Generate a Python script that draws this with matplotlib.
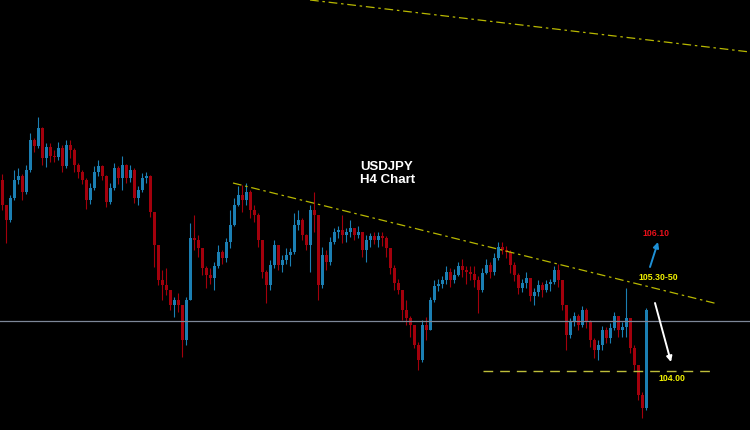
import numpy as np
import matplotlib
matplotlib.use('Agg')
import matplotlib.pyplot as plt

plt.rcParams['font.family'] = ['Liberation Sans', 'DejaVu Sans']

# USDJPY H4 candles
first_open = 107.82
closes = [107.32, 107.02, 107.46, 107.82, 107.90, 107.58, 108.02, 108.62, 108.50, 108.86,
          108.26, 108.48, 108.30, 108.28, 108.46, 108.10, 108.52, 108.42, 108.12, 107.98,
          107.82, 107.42, 107.66, 107.98, 108.10, 107.90, 107.38, 107.66, 108.06, 107.86,
          108.12, 107.86, 108.02, 107.46, 107.62, 107.86, 107.90, 107.18, 106.52, 105.82,
          105.72, 105.62, 105.32, 105.42, 105.32, 104.62, 105.42, 106.66, 106.62, 106.46,
          106.06, 105.92, 105.86, 106.10, 106.38, 106.26, 106.58, 106.92, 107.32, 107.52,
          107.42, 107.58, 107.22, 107.12, 106.62, 105.98, 105.72, 106.12, 106.52, 106.12,
          106.22, 106.32, 106.38, 106.92, 107.02, 106.72, 106.52, 107.22, 107.12, 105.72,
          106.32, 106.18, 106.58, 106.78, 106.82, 106.72, 106.78, 106.86, 106.72, 106.78,
          106.42, 106.62, 106.70, 106.62, 106.70, 106.66, 106.46, 106.06, 105.76, 105.62,
          105.22, 105.06, 104.92, 104.52, 104.22, 104.92, 104.82, 105.42, 105.70, 105.74,
          105.82, 105.98, 105.82, 105.92, 106.10, 106.02, 105.98, 105.94, 105.82, 105.62,
          105.96, 106.12, 105.98, 106.26, 106.48, 106.42, 106.38, 106.12, 105.92, 105.66,
          105.76, 105.86, 105.50, 105.58, 105.72, 105.62, 105.74, 105.78, 106.02, 105.82,
          105.32, 104.72, 104.98, 105.10, 104.92, 105.22, 104.98, 104.62, 104.42, 104.52,
          104.82, 104.66, 104.86, 105.10, 104.82, 104.88, 105.06, 104.46, 104.12, 103.52,
          103.26, 105.22]
highs = [107.94, 107.32, 107.52, 108.02, 108.06, 107.94, 108.12, 108.76, 108.66, 109.08,
         108.88, 108.56, 108.56, 108.42, 108.58, 108.52, 108.62, 108.62, 108.46, 108.16,
         108.02, 107.86, 107.76, 108.10, 108.22, 108.12, 107.92, 107.76, 108.16, 108.10,
         108.30, 108.14, 108.12, 108.06, 107.70, 107.96, 107.98, 107.92, 107.18, 106.42,
         106.02, 106.06, 105.62, 105.48, 105.56, 105.32, 105.48, 106.96, 107.12, 106.72,
         106.46, 106.10, 106.06, 106.18, 106.52, 106.42, 106.66, 107.22, 107.46, 107.70,
         107.72, 107.76, 107.62, 107.32, 107.16, 106.62, 106.02, 106.22, 106.62, 106.52,
         106.32, 106.46, 106.46, 107.16, 107.22, 107.06, 106.74, 107.32, 107.58, 107.12,
         106.48, 106.42, 106.68, 106.86, 106.90, 107.12, 106.86, 107.02, 106.86, 106.90,
         106.78, 106.72, 106.76, 106.78, 106.78, 106.78, 106.70, 106.42, 106.12, 105.84,
         105.58, 105.42, 105.10, 104.92, 104.58, 105.02, 105.08, 105.48, 105.82, 105.84,
         105.90, 106.10, 106.06, 106.04, 106.18, 106.24, 106.10, 106.10, 106.10, 105.90,
         106.06, 106.24, 106.18, 106.36, 106.58, 106.58, 106.50, 106.42, 106.18, 105.96,
         105.84, 105.98, 105.86, 105.66, 105.82, 105.78, 105.82, 105.84, 106.10, 106.14,
         105.82, 105.32, 105.06, 105.18, 105.14, 105.30, 105.26, 105.02, 104.66, 104.62,
         104.90, 104.88, 104.96, 105.18, 105.10, 104.98, 105.66, 105.06, 104.52, 104.12,
         103.58, 105.26]
lows = [107.22, 106.56, 106.98, 107.42, 107.74, 107.42, 107.54, 107.98, 108.38, 108.46,
        108.12, 108.08, 108.18, 108.18, 108.22, 107.98, 108.06, 108.26, 107.98, 107.86,
        107.74, 107.24, 107.34, 107.62, 107.90, 107.82, 107.28, 107.34, 107.62, 107.74,
        107.62, 107.76, 107.78, 107.36, 107.32, 107.58, 107.76, 107.08, 106.08, 105.72,
        105.42, 105.52, 105.22, 105.08, 105.18, 104.28, 104.52, 105.42, 106.42, 106.28,
        105.92, 105.66, 105.74, 105.62, 106.06, 106.14, 106.18, 106.46, 106.90, 107.30,
        107.18, 107.32, 107.06, 106.98, 106.48, 105.86, 105.36, 105.62, 106.06, 106.02,
        105.98, 106.14, 106.10, 106.34, 106.82, 106.62, 106.42, 105.98, 106.78, 105.42,
        105.66, 106.02, 106.12, 106.54, 106.66, 106.56, 106.58, 106.68, 106.62, 106.66,
        106.28, 106.18, 106.48, 106.54, 106.48, 106.50, 106.28, 105.94, 105.62, 105.54,
        105.02, 104.92, 104.68, 104.46, 104.02, 104.18, 104.62, 104.82, 105.38, 105.60,
        105.66, 105.74, 105.68, 105.76, 105.90, 105.88, 105.74, 105.82, 105.68, 105.16,
        105.58, 105.94, 105.86, 105.92, 106.22, 106.34, 106.26, 105.96, 105.80, 105.54,
        105.58, 105.66, 105.40, 105.32, 105.50, 105.48, 105.58, 105.60, 105.74, 105.68,
        105.22, 104.42, 104.66, 104.90, 104.82, 104.88, 104.86, 104.48, 104.26, 104.22,
        104.42, 104.56, 104.56, 104.82, 104.68, 104.68, 104.68, 104.36, 104.02, 103.42,
        103.06, 103.22]

support = 104.00
pivot = 105.00
upper_line = [(77, 111.42), (187, 110.38)]      # (bar, price)
falling_line = [(57.75, 107.76), (179, 105.34)]
support_span = (120.25, 178.25)

up_col = '#1b7fb3'
dn_col = '#a3000c'

closes = np.array(closes)
opens = np.concatenate([[first_open], closes[:-1]])
highs = np.maximum(np.array(highs), np.maximum(opens, closes))
lows = np.minimum(np.array(lows), np.minimum(opens, closes))
idx = np.arange(len(closes))
up = closes >= opens
cols = np.where(up, up_col, dn_col)

fig = plt.figure(figsize=(7.5, 4.3), dpi=100, facecolor='black')
ax = fig.add_axes([0, 0, 1, 1])
ax.set_facecolor('black')

ax.vlines(idx, lows, highs, colors=cols, linewidth=0.8)
ax.bar(idx, np.abs(closes - opens) + 0.005, bottom=np.minimum(opens, closes),
       width=0.75, color=cols, linewidth=0)

ax.axhline(pivot, color='#7d8798', linewidth=0.9)
ax.plot(*zip(*upper_line), color='#b8b800', linewidth=0.9, dashes=(7, 3, 2, 3))
ax.plot(*zip(*falling_line), color='#b8b800', linewidth=0.9, dashes=(7, 3, 2, 3))
ax.plot(support_span, [support, support], color='#bdbd3a', linewidth=1.0, dashes=(7, 5))

ax.text(89.5, 107.95, 'USDJPY\nH4 Chart', color='white', fontsize=9.5, fontweight='bold',
        ha='left', va='center', linespacing=1.05)
ax.text(163.5, 106.74, '106.10', color='#e8101a', fontsize=6.3, fontweight='bold',
        ha='center', va='center')
ax.text(164, 105.88, '105.30-50', color='#f2f200', fontsize=6.3, fontweight='bold',
        ha='center', va='center')
ax.text(167.5, 103.84, '104.00', color='#f2f200', fontsize=6.3, fontweight='bold',
        ha='center', va='center')

ax.annotate('', xy=(164, 106.58), xytext=(162, 106.08),
            arrowprops=dict(arrowstyle='-|>', color='#1e90d6', lw=1.4, mutation_scale=8,
                            shrinkA=0, shrinkB=0))
ax.annotate('', xy=(167.25, 104.18), xytext=(163.25, 105.36),
            arrowprops=dict(arrowstyle='-|>', color='white', lw=1.4, mutation_scale=8,
                            shrinkA=0, shrinkB=0))

ax.set_xlim(-0.5, 187)
ax.set_ylim(102.82, 111.42)
ax.axis('off')

fig.savefig('out.png', dpi=100, facecolor='black')
